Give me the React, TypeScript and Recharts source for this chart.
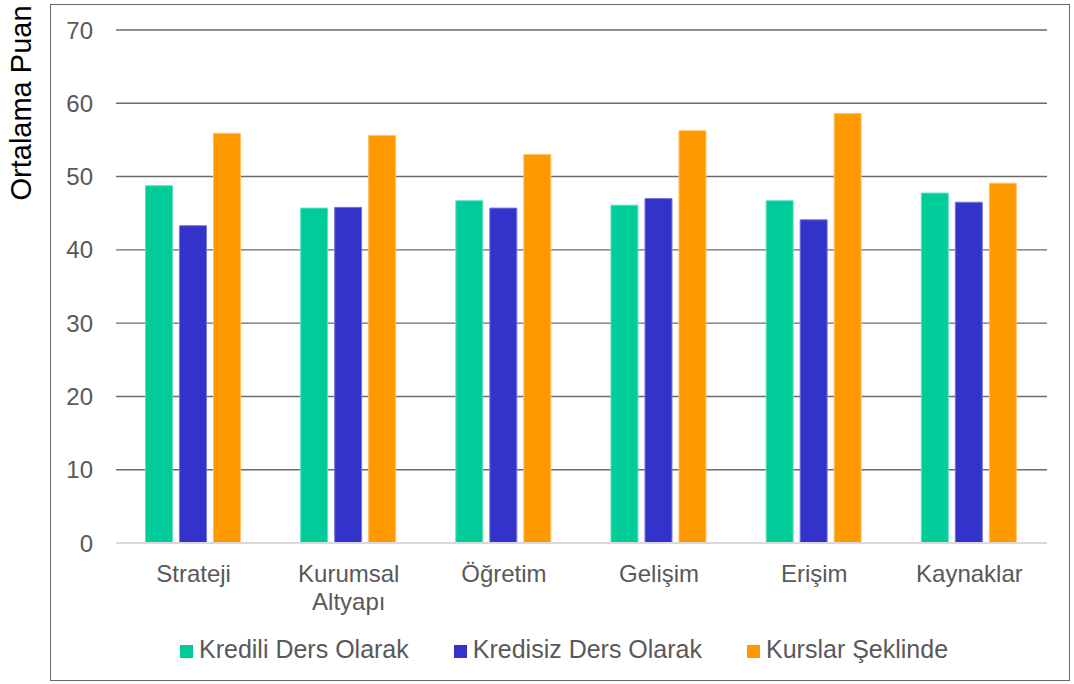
import { BarChart, Bar, XAxis, YAxis, CartesianGrid, Legend } from "recharts";

const categories = ["Strateji", "Kurumsal Altyapı", "Öğretim", "Gelişim", "Erişim", "Kaynaklar"];
const krediliDers = [48.75, 45.7, 46.7, 46.1, 46.7, 47.75];
const kredisizDers = [43.3, 45.8, 45.7, 47.0, 44.1, 46.5];
const kurslar = [55.9, 55.6, 53.0, 56.25, 58.6, 49.1];
const yTicks = [0, 10, 20, 30, 40, 50, 60, 70];

const SERIES = [
  { key: "Kredili Ders Olarak", values: krediliDers, color: "#00CC99", edge: "#5fe0bf" },
  { key: "Kredisiz Ders Olarak", values: kredisizDers, color: "#3333CC", edge: "#7777dd" },
  { key: "Kurslar Şeklinde", values: kurslar, color: "#FF9900", edge: "#ffc266" },
];

const data = categories.map((name, i) => {
  const row: Record<string, string | number> = { name };
  SERIES.forEach((s) => {
    row[s.key] = s.values[i];
  });
  return row;
});

const FONT = "'Liberation Sans', Arial, sans-serif";
const TEXT = "#595959";

function CategoryTick(props: any) {
  const { x, y, payload } = props;
  const label: string = payload.value;
  const lines = label.length > 10 ? label.split(" ") : [label];
  return (
    <text x={x} y={y} textAnchor="middle" fill={TEXT} fontSize={24} fontFamily={FONT}>
      {lines.map((ln, i) => (
        <tspan key={i} x={x} dy={i === 0 ? 39 : 27.5}>
          {ln}
        </tspan>
      ))}
    </text>
  );
}

export default function App() {
  return (
    <div style={{ position: "absolute", left: 0, top: 0, width: 1074, height: 684, background: "#fff" }}>
      <div
        style={{
          position: "absolute",
          left: 50,
          top: 4,
          width: 1020,
          height: 677,
          border: "1.5px solid #666",
          boxSizing: "border-box",
        }}
      />
      <div
        style={{
          position: "absolute",
          left: 21,
          top: 103,
          transform: "translate(-50%, -50%) rotate(-90deg)",
          fontFamily: FONT,
          fontSize: 29,
          color: "#000",
          whiteSpace: "nowrap",
        }}
      >
        Ortalama Puan
      </div>
      <BarChart
        width={1074}
        height={684}
        data={data}
        margin={{ top: 30, right: 27, bottom: 81, left: 0 }}
        barCategoryGap="19%"
        barGap={7}
        style={{ position: "absolute", left: 0, top: 0 }}
      >
        <CartesianGrid vertical={false} stroke="#6b6b6b" strokeWidth={1.4} />
        <XAxis
          dataKey="name"
          height={60}
          tickLine={false}
          axisLine={{ stroke: "#d9d9d9", strokeWidth: 2 }}
          tickSize={0}
          tickMargin={0}
          interval={0}
          tick={<CategoryTick />}
        />
        <YAxis
          width={116}
          domain={[0, 70]}
          ticks={yTicks}
          axisLine={false}
          tickLine={false}
          tickSize={0}
          tickMargin={23}
          tick={{ fill: TEXT, fontSize: 24, fontFamily: FONT }}
        />
        <Legend
          layout="horizontal"
          verticalAlign="middle"
          align="center"
          iconType="square"
          iconSize={13}
          wrapperStyle={{ top: 635, left: 180, width: "auto", fontFamily: FONT, fontSize: 25 }}
          formatter={(value: string) => (
            <span style={{ color: TEXT, marginLeft: 2, marginRight: 35 }}>{value}</span>
          )}
        />
        {SERIES.map((s) => (
          <Bar
            key={s.key}
            dataKey={s.key}
            fill={s.color}
            stroke={s.edge}
            strokeWidth={1}
            isAnimationActive={false}
          />
        ))}
      </BarChart>
    </div>
  );
}
